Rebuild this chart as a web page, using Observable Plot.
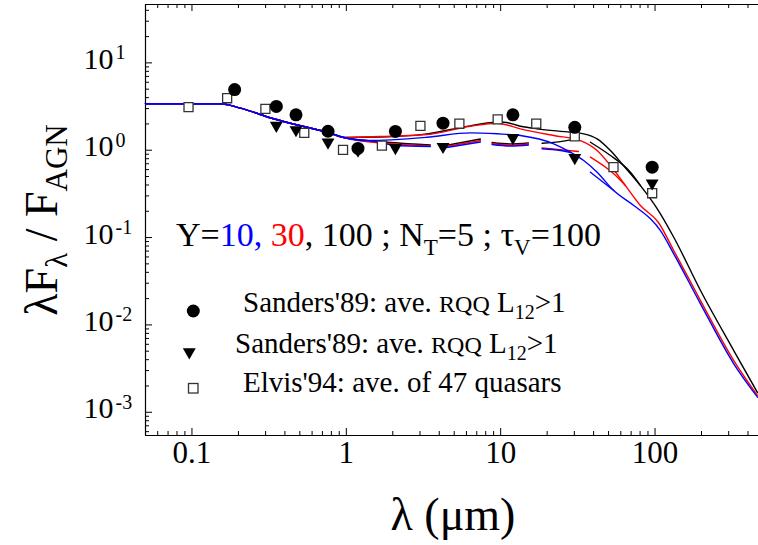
<!DOCTYPE html>
<html><head><meta charset="utf-8">
<script src="https://cdn.jsdelivr.net/npm/d3@7"></script>
<script src="https://cdn.jsdelivr.net/npm/@observablehq/plot@0.6"></script>
<style>
html,body{margin:0;padding:0;background:#fff;}
svg{display:block;}
</style></head><body><div id="chart"></div>
<script>
// ---------- data (λ in μm, λFλ/F_AGN) ----------
const sandersCircles = [[0.189,4.95],[0.352,3.17],[0.472,2.54],[0.761,1.65],[1.19,1.05],[2.08,1.64],[4.23,2.04],[12.0,2.54],[30.2,1.83],[95.8,0.64]];
const sandersTriangles = [[0.352,1.92],[0.472,1.71],[0.761,1.235],[1.19,1.0],[2.08,1.065],[4.23,1.10],[12.0,1.39],[30.2,0.82],[95.8,0.42]];
const elvisSquares = [[0.095,3.11],[0.169,3.94],[0.299,2.98],[0.534,1.58],[0.952,1.01],[1.70,1.13],[3.02,1.90],[5.40,2.01],[9.56,2.26],[17.0,2.01],[30.2,1.44],[53.8,0.64],[95.8,0.322]];

const modelCommon = [[0.05,3.40],[0.153,3.40],[0.206,3.03],[0.338,2.29],[0.556,1.83],[0.750,1.61],[0.961,1.40]];
const blackUpperTail = [[1.66,1.416],[3.33,1.541],[6.36,1.903],[9.48,2.092],[10.46,2.092],[13.42,1.883],[17.21,1.758],[28.3,1.607],[34.5,1.541],[42.15,1.351],[51.4,0.992],[62.4,0.668],[80.4,0.394],[103.2,0.215],[132.2,0.1009],[197,0.0248],[323.6,0.00509],[461,0.00168]];
const redUpperTail = [[1.66,1.435],[3.33,1.512],[6.36,1.883],[9.48,2.038],[13.42,1.758],[22.06,1.473],[32.85,1.291],[42.15,0.992],[51.4,0.668],[64.3,0.394],[80.4,0.2328],[105.2,0.1487],[132.2,0.0711],[197,0.019],[323.6,0.00391],[461,0.00156]];
const blueUpperTail = [[1.36,1.291],[3.33,1.409],[6.36,1.582],[9.48,1.541],[13.42,1.473],[22.06,1.184],[28.3,0.949],[34.5,0.762],[42.15,0.560],[54.0,0.3456],[72.8,0.2328],[93.4,0.1639],[108.4,0.1204],[132.2,0.0652],[197,0.01744],[323.6,0.00359],[461,0.00149]];
const blackLowerTail = [[1.93,1.225],[3.50,1.147],[3.8,null],[4.07,1.102],[7.39,1.343],[8.1,null],[8.80,1.225],[11.56,1.178],[15.12,1.209],[16.8,null],[18.55,1.2],[28.3,1.315],[31.27,1.398],[35,null],[38.14,1.235],[51.4,0.870],[69.27,0.560],[80.4,0.394]];
const redLowerTail = [[1.93,1.184],[3.50,1.123],[3.8,null],[4.07,1.074],[7.39,1.291],[8.1,null],[8.80,1.193],[11.56,1.147],[15.12,1.178],[16.8,null],[18.55,1.065],[31.9,0.966],[35,null],[38.14,0.832],[54.0,0.537],[64.3,0.394]];
const blueLowerTail = [[1.66,1.235],[2.03,1.132],[3.50,1.102],[3.8,null],[4.07,1.046],[7.39,1.241],[8.1,null],[8.80,1.162],[11.56,1.117],[15.12,1.147],[16.8,null],[18.55,1.038],[24.37,0.992],[28.3,0.941],[33,null],[38.14,0.560],[54.0,0.3456]];

const xTickValues = [0.1, 1, 10, 100];
const xTickLabels = ["0.1", "1", "10", "100"];
const yTickValues = [1e-3, 1e-2, 1e-1, 1, 10];
const yTickExponents = ["-3", "-2", "-1", "0", "1"];

const seriesColors = {black: "#000000", red: "#ff0000", blue: "#0000ff"};
const legendLabels = ["Sanders'89: ave. ", "Sanders'89: ave. ", "Elvis'94: ave. of 47 quasars"];

// ---------- layout ----------
const W = 758, H = 545;
const mL = 145, mR = 0, mT = 4, mB = 110;
const frameW = W - mL - mR, frameH = H - mT - mB;
const serif = "'Liberation Serif','Times New Roman',Times,serif";

const xMinor = [];
[0.01, 0.1, 1, 10, 100].forEach(d => { for (let k = 2; k <= 9; k++) { const v = d * k; if (v >= 0.05 && v <= 468) xMinor.push(v); } });
const yMinor = [];
[1e-4, 1e-3, 1e-2, 1e-1, 1, 10].forEach(d => { for (let k = 2; k <= 9; k++) { const v = d * k; if (v >= 5.42e-4 && v <= 46.6) yMinor.push(v); } });

const X = d => d[0], Y = d => d[1];
const lineOpts = (color) => ({x: X, y: Y, stroke: color, strokeWidth: 1.4, curve: "monotone-x"});

const plot = Plot.plot({
  width: W, height: H,
  marginLeft: mL, marginRight: mR, marginTop: mT, marginBottom: mB,
  x: {type: "log", domain: [0.05, 468], axis: null},
  y: {type: "log", domain: [5.42e-4, 46.6], axis: null},
  style: {fontFamily: serif, background: "white", color: "black"},
  marks: [
    Plot.ruleX([0.05], {stroke: "#000", strokeWidth: 1.2}),
    Plot.ruleY([5.42e-4, 46.6], {stroke: "#000", strokeWidth: 1.2}),
    Plot.tickX(xTickValues, {x: d => d, insetTop: frameH - 7, stroke: "#000"}),
    Plot.tickX(xTickValues, {x: d => d, insetBottom: frameH - 7, stroke: "#000"}),
    Plot.tickX(xMinor, {x: d => d, insetTop: frameH - 4, stroke: "#000"}),
    Plot.tickX(xMinor, {x: d => d, insetBottom: frameH - 4, stroke: "#000"}),
    Plot.tickY(yTickValues, {y: d => d, insetRight: frameW - 7, stroke: "#000"}),
    Plot.tickY(yMinor, {y: d => d, insetRight: frameW - 4, stroke: "#000"}),
    Plot.text(xTickValues, {x: d => d, text: (d, i) => xTickLabels[i], frameAnchor: "bottom", dy: 27, fontSize: 31, fontFamily: serif, fill: "#000"}),
    Plot.text(yTickValues, {y: d => d, text: () => "10", frameAnchor: "left", dx: -62, dy: -3.5, textAnchor: "start", fontSize: 30, fontFamily: serif, fill: "#000"}),
    Plot.text(yTickValues, {y: d => d, text: (d, i) => yTickExponents[i], frameAnchor: "left", dx: -30, dy: -10, textAnchor: "start", fontSize: 20, fontFamily: serif, fill: "#000"}),
    Plot.line(modelCommon.concat(blackUpperTail), lineOpts(seriesColors.black)),
    Plot.line(modelCommon.concat(blackLowerTail), lineOpts(seriesColors.black)),
    Plot.line(modelCommon.concat(redUpperTail), lineOpts(seriesColors.red)),
    Plot.line(modelCommon.concat(redLowerTail), lineOpts(seriesColors.red)),
    Plot.line(modelCommon.concat(blueUpperTail), lineOpts(seriesColors.blue)),
    Plot.line(modelCommon.concat(blueLowerTail), lineOpts(seriesColors.blue)),
    Plot.dot(elvisSquares, {x: X, y: Y, symbol: "square", r: 5.1, fill: "white", stroke: "#333", strokeWidth: 1.3}),
    Plot.dot(sandersTriangles, {x: X, y: Y, symbol: "triangle", rotate: 180, r: 4.8, fill: "#000", stroke: "none"}),
    Plot.dot(sandersCircles, {x: X, y: Y, symbol: "circle", r: 6.5, fill: "#000", stroke: "none"})
  ]
});
document.getElementById("chart").appendChild(plot);

// ---------- texts & legend ----------
const svg = d3.select(plot);
function addText(x, y, size, parts, opts = {}) {
  const t = svg.append("text").attr("x", x).attr("y", y)
    .attr("font-family", serif).attr("font-size", size).attr("fill", "#000")
    .attr("text-anchor", opts.anchor || "start")
    .style("white-space", "pre");
  if (opts.transform) t.attr("transform", opts.transform);
  parts.forEach(p => {
    const s = t.append("tspan").text(p.t);
    if (p.fill) s.attr("fill", p.fill);
    if (p.size) s.attr("font-size", p.size);
    if (p.dy) s.attr("dy", p.dy);
  });
  return t;
}

addText(176, 246, 34, [
  {t: "Y="}, {t: "10,", fill: seriesColors.blue}, {t: " "}, {t: "30", fill: seriesColors.red},
  {t: ", 100 ; N"}, {t: "T", size: 23, dy: 9}, {t: "=5 ; τ", dy: -9}, {t: "V", size: 23, dy: 9}, {t: "=100", dy: -9}
]);

const rqq = [{t: "RQQ", size: 24}, {t: " L"}, {t: "12", size: 20, dy: 7}, {t: ">1", dy: -7}];
addText(243, 312, 29, [{t: legendLabels[0]}].concat(rqq));
addText(235, 353, 29, [{t: legendLabels[1]}].concat(rqq));
addText(243, 392, 29, [{t: legendLabels[2]}]);
svg.append("circle").attr("cx", 193.3).attr("cy", 311).attr("r", 6.5).attr("fill", "#000");
svg.append("path").attr("d", d3.symbol(d3.symbolTriangle, Math.PI * 4.8 * 4.8)())
  .attr("transform", "translate(189.3,352) rotate(180)").attr("fill", "#000");
svg.append("rect").attr("x", 188.5).attr("y", 383.5).attr("width", 9.5).attr("height", 9.5)
  .attr("fill", "white").attr("stroke", "#333").attr("stroke-width", 1.3);

addText(0, 0, 46, [{t: "λF"}, {t: "λ", size: 31, dy: 10}, {t: " / F", dy: -10}, {t: "AGN", size: 31, dy: 10}],
  {anchor: "middle", transform: "translate(57,220) rotate(-90)"});
addText(453, 530, 46, [{t: "λ (μm)"}], {anchor: "middle"});
</script></body></html>
